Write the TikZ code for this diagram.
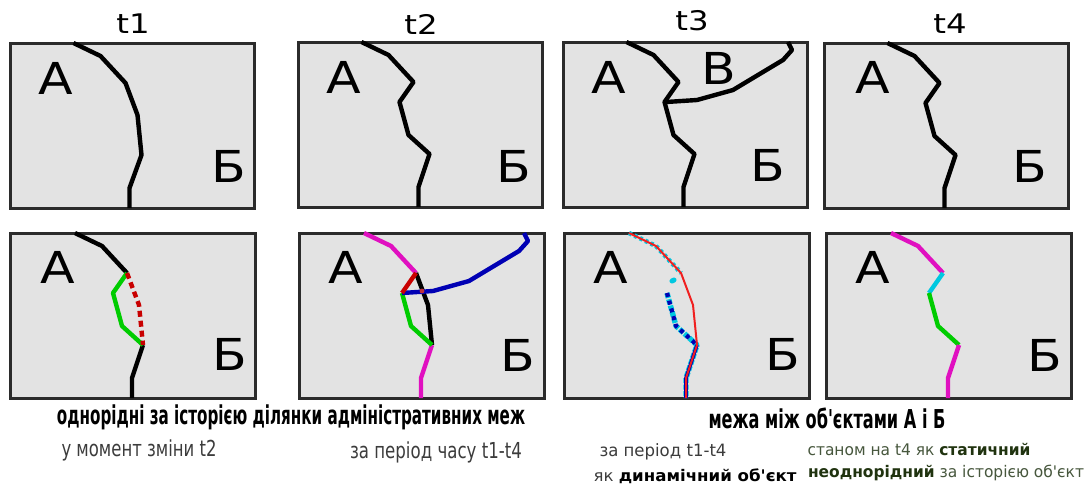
\documentclass[tikz,border=0pt]{standalone}
\usepackage{fontspec}
\usepackage{graphicx}
\setmainfont{DejaVu Sans}[Ligatures=TeXOff]
\definecolor{panelgray}{HTML}{E3E3E3}
\definecolor{frameink}{HTML}{2B2B2B}
\definecolor{magline}{HTML}{E010C0}
\definecolor{greenline}{HTML}{00CC00}
\definecolor{redline}{HTML}{C80000}
\definecolor{navyline}{HTML}{0000B4}
\definecolor{cyanline}{HTML}{00C8E0}
\definecolor{thinred}{HTML}{F02020}
\definecolor{crossdot}{HTML}{C03040}
\definecolor{graytext}{HTML}{3C3C3C}
\definecolor{greentext}{HTML}{47573D}
\definecolor{dgreentext}{HTML}{20330F}
\newcommand\fitw[2]{\sbox0{#2}\pgfmathsetmacro\fitr{#1/\wd0}\scalebox{\fitr}[1]{\usebox0}}
\newcommand\fs[1]{\fontsize{#1}{#1}\selectfont}
\newcommand\ltr[1]{\scalebox{1.15}[1]{#1}}
\def\pathU{(65,0) -- (92,13) -- (117,40)}
\def\pathL{(133,112) -- (122,145) -- (122,165)}
\def\pathG{(117,40) -- (103,60) -- (112,93) -- (133,112)}
\def\pathM{(117,40) -- (129,72) -- (133,112)}
\def\pathB{(103,60) -- (134,58) -- (170,48) -- (200,30) -- (220,18) -- (229,8) -- (225,0)}
\tikzset{
  panel/.style={draw=frameink,fill=panelgray,line width=3pt},
  bound/.style={line width=4.4pt,line join=round,line cap=butt},
  letter/.style={inner sep=0pt,font=\fs{44},text=black},
  head/.style={inner sep=0pt,font=\fs{27}},
  captext/.style={inner sep=0pt,anchor=center},
  topline/.style={bound,xshift=-1.5pt},
}
\begin{document}
\begin{tikzpicture}[x=1pt,y=-1pt]
\useasboundingbox[fill=white] (0,0) rectangle (1086,483);
% headings
\node[head] (h1) at (133,24) {\scalebox{1.2}[1]{t1}};
\node[head] (h2) at (421,24) {\scalebox{1.2}[1]{t2}};
\node[head] (h3) at (692,21) {\scalebox{1.2}[1]{t3}};
\node[head] (h4) at (950,24) {\scalebox{1.2}[1]{t4}};
% top row
\begin{scope}[shift={(10,43)}]
  \draw[panel] (0,0) rectangle (244,165);
  \draw[topline] (65,0) -- (92,13) -- (117,40) -- (129,72) -- (133,112) -- (121,145) -- (121,165);
\end{scope}
\node[letter] (a1) at (56,78) {\ltr{А}};
\node[letter] (b1) at (229,166) {\ltr{Б}};
\begin{scope}[shift={(298,42)}]
  \draw[panel] (0,0) rectangle (244,165);
  \draw[topline] \pathU -- (103,60) -- (112,93) -- \pathL;
\end{scope}
\node[letter] (a2) at (344,77) {\ltr{А}};
\node[letter] (b2) at (514,166) {\ltr{Б}};
\begin{scope}[shift={(563,42)}]
  \draw[panel] (0,0) rectangle (244,165);
  \draw[topline] \pathU -- (103,60) -- (112,93) -- \pathL;
  \draw[bound] \pathB;
\end{scope}
\node[letter] (a3) at (609,77) {\ltr{А}};
\node[letter] (c3) at (719,68) {\ltr{В}};
\node[letter] (b3) at (768,165) {\ltr{Б}};
\begin{scope}[shift={(824,43)}]
  \draw[panel] (0,0) rectangle (244,165);
  \draw[topline] \pathU -- (103,60) -- (112,93) -- \pathL;
\end{scope}
\node[letter] (a4) at (873,77) {\ltr{А}};
\node[letter] (b4) at (1030,166) {\ltr{Б}};
% bottom row
\begin{scope}[shift={(10,233)}]
  \draw[panel] (0,0) rectangle (245,165);
  \draw[bound] \pathU;
  \draw[bound] \pathL;
  \draw[bound,draw=greenline] \pathG;
  \draw[bound,draw=redline,dash pattern=on 6pt off 4pt] \pathM;
\end{scope}
\node[letter] (a5) at (58,267) {\ltr{А}};
\node[letter] (b5) at (230,354) {\ltr{Б}};
\begin{scope}[shift={(299,233)}]
  \draw[panel] (0,0) rectangle (245,165);
  \draw[bound,draw=magline] \pathU;
  \draw[bound,draw=magline] \pathL;
  \draw[bound] \pathM;
  \draw[bound,draw=greenline] (103,60) -- (112,93) -- (133,112);
  \draw[bound,draw=navyline] \pathB;
  \draw[bound,draw=redline] (117,40) -- (103,60);
  \fill[crossdot] (123,58) circle (2.4pt);
\end{scope}
\node[letter] (a6) at (346,267) {\ltr{А}};
\node[letter] (b6) at (518,355) {\ltr{Б}};
\begin{scope}[shift={(564,233)}]
  \draw[panel] (0,0) rectangle (245,165);
  \draw[line width=4.6pt,draw=cyanline,dash pattern=on 3pt off 3pt] \pathU;
  \draw[line width=5pt,draw=cyanline,line cap=round] (108,48) -- (110,47);
  \draw[line width=5.4pt,draw=cyanline,line join=round,dash pattern=on 5pt off 1.5pt] (103,60) -- (112,93) -- \pathL;
  \draw[line width=4.2pt,draw=navyline,dash pattern=on 4pt off 4pt] (103,60) -- (112,93) -- (133,112);
  \draw[line width=3.6pt,draw=navyline] \pathL;
  \draw[line width=2pt,draw=thinred,line join=round] \pathU -- (129,72) -- \pathL;
\end{scope}
\node[letter] (a7) at (611,267) {\ltr{А}};
\node[letter] (b7) at (783,354) {\ltr{Б}};
\begin{scope}[shift={(826,233)}]
  \draw[panel] (0,0) rectangle (245,165);
  \draw[bound,draw=magline] \pathU;
  \draw[bound,draw=cyanline] (117,40) -- (103,60);
  \draw[bound,draw=greenline] (103,60) -- (112,93) -- (133,112);
  \draw[bound,draw=magline] \pathL;
\end{scope}
\node[letter] (a8) at (873,267) {\ltr{А}};
\node[letter] (b8) at (1045,355) {\ltr{Б}};
% captions
\node[captext] (t1) at (291,417) {\fitw{468}{\fs{26}\bfseries однорідні за історією ділянки адміністративних меж}};
\node[captext,text=graytext] (t2) at (139,450) {\fitw{155}{\fs{22}у момент зміни t2}};
\node[captext,text=graytext] (t3) at (436,452) {\fitw{172}{\fs{22}за період часу t1-t4}};
\node[captext] (t4) at (827,418) {\fitw{237}{\fs{26}\bfseries межа між об'єктами А і Б}};
\node[captext,text=graytext] (t5) at (663,452) {\fitw{127}{\fs{17}за період t1-t4}};
\node[captext,text=graytext] (t6) at (695,476) {\fitw{203}{\fs{16}як \textbf{\textcolor{black}{динамічний об'єкт}}}};
\node[captext,text=greentext] (t7) at (919,449) {\fitw{223}{\fs{16}станом на t4 як \textbf{\textcolor{dgreentext}{статичний}}}};
\node[captext,text=greentext] (t8) at (946,473) {\fitw{276}{\fs{16}\textbf{\textcolor{dgreentext}{неоднорідний}} за історією об'єкт}};
\end{tikzpicture}
\end{document}
